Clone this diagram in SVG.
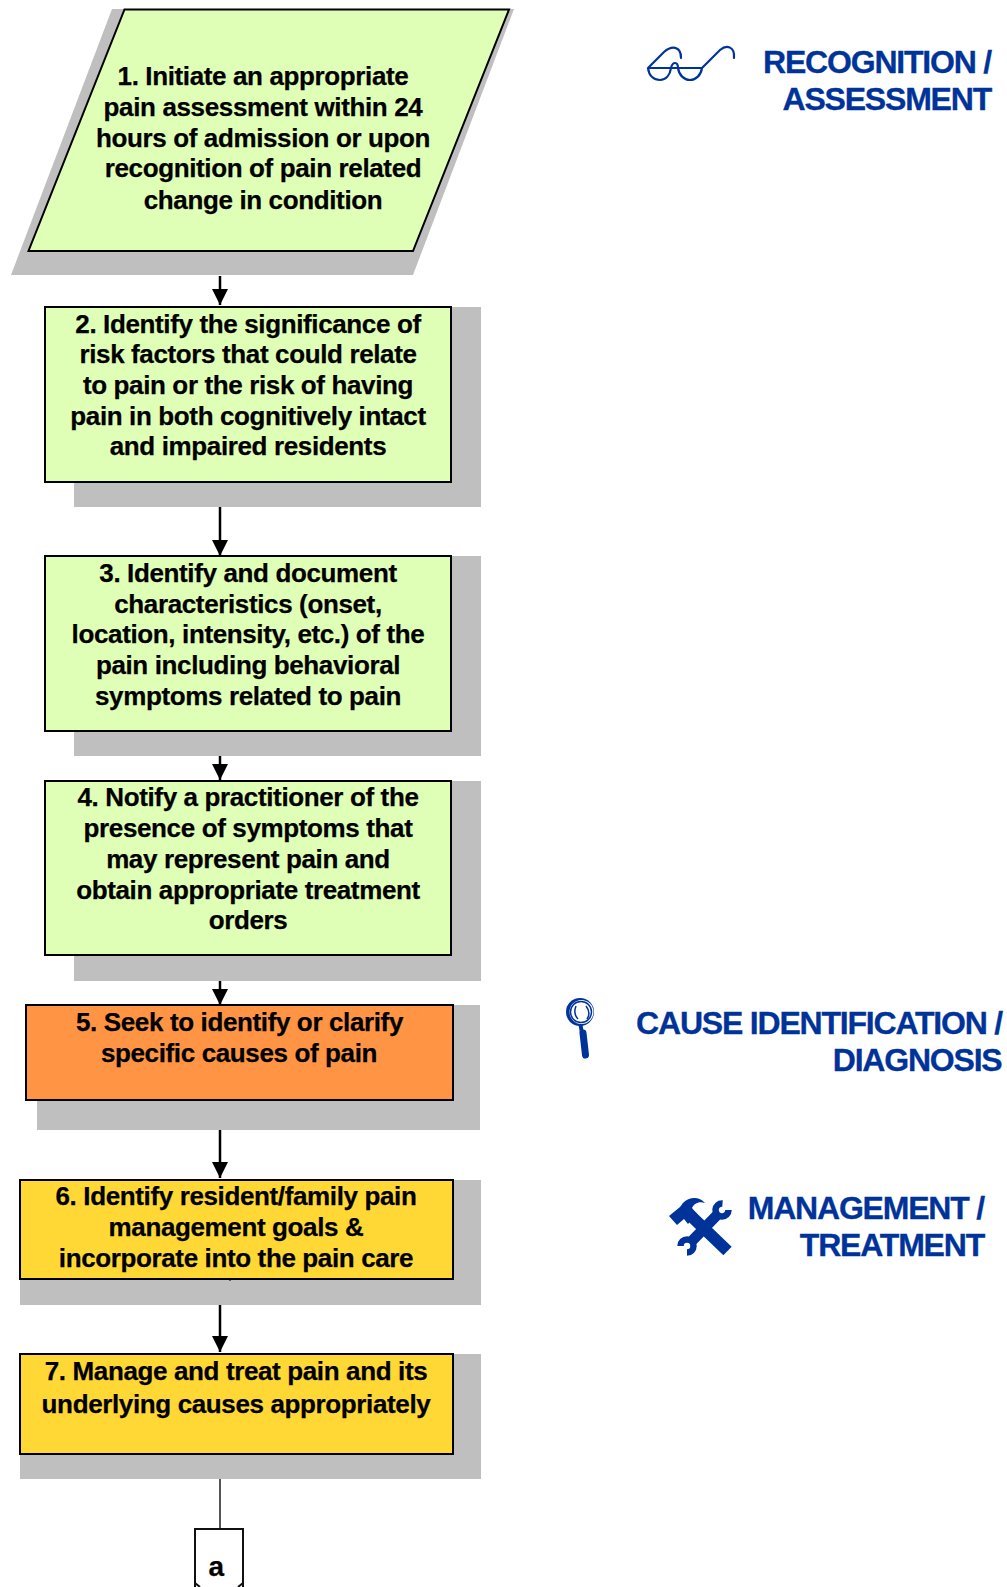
<svg xmlns="http://www.w3.org/2000/svg" width="1007" height="1587" viewBox="0 0 1007 1587">
<style>
.shadow{fill:#bfbfbf}
.box{stroke:#000;stroke-width:2}
.green{fill:#dfffb7}.orange{fill:#ff9544}.yellow{fill:#ffd836}
.t{font-family:"Liberation Sans",Arial,sans-serif;font-weight:bold;font-size:26px;text-anchor:middle;fill:#000;stroke:#000;stroke-width:.25;letter-spacing:-.37px}
.h{font-family:"Liberation Sans",Arial,sans-serif;font-weight:bold;font-size:32px;text-anchor:end;fill:#003399;stroke:#003399;stroke-width:.3;letter-spacing:-1.2px}
.c{stroke:#000;stroke-width:2.500;fill:none}
.ic{fill:none;stroke:#003399}
</style>
<defs>
<marker id="ah" markerUnits="userSpaceOnUse" markerWidth="17" markerHeight="17" refX="16" refY="8.500" orient="auto"><path d="M0,0.500 L16,8.500 L0,16.500 Z" fill="#000"/></marker>
</defs>
<g id="connectors">
<path class="c" d="M220,276V305" marker-end="url(#ah)"/>
<path class="c" d="M220,507V556" marker-end="url(#ah)"/>
<path class="c" d="M220,756V780" marker-end="url(#ah)"/>
<path class="c" d="M220,981V1005" marker-end="url(#ah)"/>
<path class="c" d="M220,1130V1178" marker-end="url(#ah)"/>
<path class="c" d="M220,1304V1352" marker-end="url(#ah)"/>
<path d="M220,1478V1529" stroke="#555" stroke-width="2" fill="none"/>
</g>
<g id="node1">
<path class="shadow" d="M112,9H514L413,275H11Z"/>
<path class="green box" d="M124.500,9.500H509L413,251H28.500Z"/>
<text class="t"><tspan x="263" y="85">1. Initiate an appropriate</tspan><tspan x="263" y="116">pain assessment within 24</tspan><tspan x="263" y="147">hours of admission or upon</tspan><tspan x="263" y="177">recognition of pain related</tspan><tspan x="263" y="209">change in condition</tspan></text>
</g>
<g id="node2">
<rect class="shadow" x="74" y="307" width="407" height="200"/>
<rect class="green box" x="45" y="307" width="406" height="175"/>
<text class="t"><tspan x="248" y="333">2. Identify the significance of</tspan><tspan x="248" y="363">risk factors that could relate</tspan><tspan x="248" y="394">to pain or the risk of having</tspan><tspan x="248" y="425">pain in both cognitively intact</tspan><tspan x="248" y="455">and impaired residents</tspan></text>
</g>
<g id="node3">
<rect class="shadow" x="74" y="556" width="407" height="200"/>
<rect class="green box" x="45" y="556" width="406" height="175"/>
<text class="t"><tspan x="248" y="582">3. Identify and document</tspan><tspan x="248" y="613">characteristics (onset,</tspan><tspan x="248" y="643">location, intensity, etc.) of the</tspan><tspan x="248" y="674">pain including behavioral</tspan><tspan x="248" y="705">symptoms related to pain</tspan></text>
</g>
<g id="node4">
<rect class="shadow" x="74" y="781" width="407" height="200"/>
<rect class="green box" x="45" y="781" width="406" height="174"/>
<text class="t"><tspan x="248" y="806">4. Notify a practitioner of the</tspan><tspan x="248" y="837">presence of symptoms that</tspan><tspan x="248" y="868">may represent pain and</tspan><tspan x="248" y="899">obtain appropriate treatment</tspan><tspan x="248" y="929">orders</tspan></text>
</g>
<g id="node5">
<rect class="shadow" x="37" y="1005" width="443" height="125"/>
<rect class="orange box" x="26" y="1005" width="427" height="95"/>
<text class="t"><tspan x="239.500" y="1031">5. Seek to identify or clarify</tspan><tspan x="239" y="1062">specific causes of pain</tspan></text>
</g>
<g id="node6">
<rect class="shadow" x="20" y="1180" width="461" height="125"/>
<rect class="yellow box" x="20" y="1180" width="433" height="99"/>
<text class="t"><tspan x="236" y="1205">6. Identify resident/family pain</tspan><tspan x="236" y="1236">management goals &amp;</tspan><tspan x="236" y="1267">incorporate into the pain care</tspan></text>
<rect x="229" y="1279" width="2" height="1.500" fill="#000"/>
</g>
<g id="node7">
<rect class="shadow" x="20" y="1354" width="461" height="125"/>
<rect class="yellow box" x="20" y="1354" width="433" height="100"/>
<text class="t"><tspan x="236" y="1380">7. Manage and treat pain and its</tspan><tspan x="236" y="1412.500">underlying causes appropriately</tspan></text>
</g>
<g id="node-a">
<path d="M195,1590V1583V1529H243V1583V1590" fill="#fff" stroke="#111" stroke-width="2"/>
<path d="M195,1583L200,1587M243,1583L238,1587" stroke="#111" stroke-width="2" fill="none"/>
<text class="t" style="font-size:28px" x="216" y="1576">a</text>
</g>
<g id="label-recognition">
<path class="ic" stroke-width="2.200" stroke-linecap="round" d="M648,68L664,52C671,46 681,45 681,58M648,68H702M648,68C649,76 654,80 660,80C666,80 670,75 671,68C672,64 674,63 675,63C677,63 678,65 678,68C679,75 684,80 690,80C696,80 701,75 702,68L720,50C727,44 735,47 734,58"/>
<text class="h"><tspan x="991" y="73">RECOGNITION /</tspan><tspan x="991" y="110">ASSESSMENT</tspan></text>
</g>
<g id="label-cause">
<circle cx="580" cy="1012" r="14" fill="#003399"/>
<circle cx="581.500" cy="1012" r="12" fill="#fff"/>
<circle cx="581" cy="1012" r="10.500" fill="none" stroke="#003399" stroke-width="1.500"/>
<path class="ic" stroke-width="1.500" d="M576,1006C574,1011 575,1016 578,1019M586,1006C590,1011 589,1016 587,1019"/>
<path class="ic" stroke-width="4" d="M580.500,1025L582,1033"/>
<path class="ic" stroke-width="7" stroke-linecap="round" d="M583,1033L585.500,1055"/>
<text class="h"><tspan x="1002" y="1034">CAUSE IDENTIFICATION /</tspan><tspan x="1001.500" y="1071">DIAGNOSIS</tspan></text>
</g>
<g id="label-management">
<path fill="#003399" d="M669,1216L680,1207L683,1203C689,1197 699,1196 705,1203C698,1201 694,1204 692,1208L697,1214L688,1224L684,1219L677,1225Z"/>
<path class="ic" stroke-width="12" d="M690,1215L727.500,1251"/>
<path class="ic" stroke-width="10.500" d="M719,1213L690,1243"/>
<path class="ic" stroke-width="6.500" d="M722.500,1203.500A6.500,6.500 0 1 0 728.500,1210"/>
<path class="ic" stroke-width="6.500" d="M680.500,1246A6.500,6.500 0 1 1 687,1252.500"/>
<text class="h"><tspan x="984" y="1219">MANAGEMENT /</tspan><tspan x="984" y="1256">TREATMENT</tspan></text>
</g>
</svg>
